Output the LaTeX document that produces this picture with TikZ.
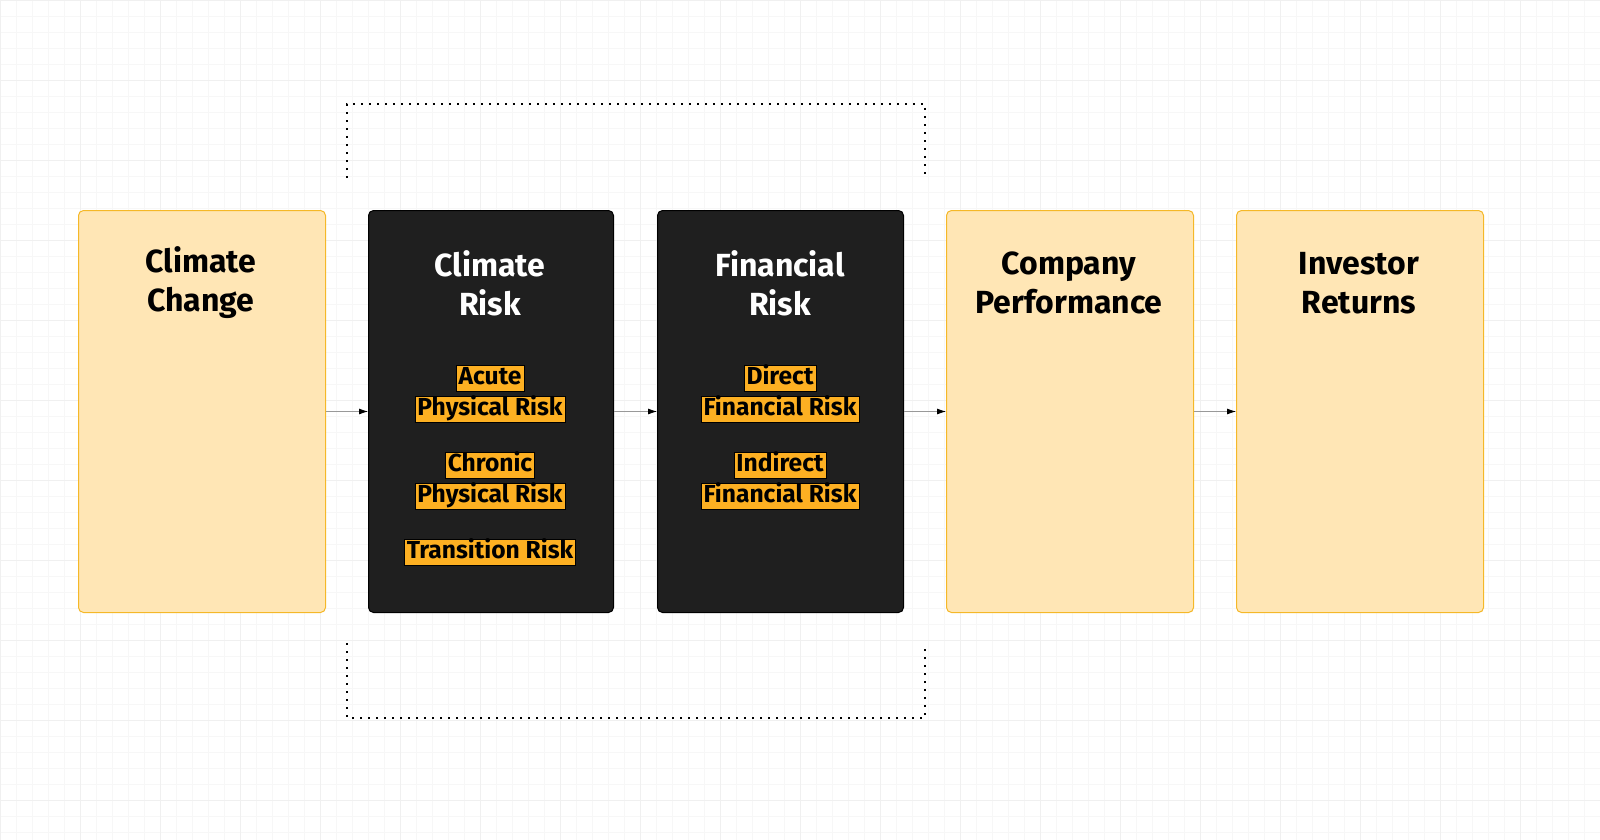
\documentclass[tikz,border=0pt]{standalone}
\usepackage{fontspec}
\setmainfont{Fira Sans}
\usetikzlibrary{arrows.meta}
\definecolor{pale}{HTML}{FFE6B5}
\definecolor{edge}{HTML}{F5B828}
\definecolor{dark}{HTML}{1F1F1F}
\definecolor{hl}{HTML}{FDB022}
\tikzset{
 lightbox/.style={draw=edge,fill=pale,rounded corners=2.5pt,line width=0.5pt},
 darkbox/.style={draw=black,fill=dark,rounded corners=2.5pt,line width=0.5pt},
 ttl/.style={font=\fontsize{16}{19.5}\selectfont\bfseries,align=center},
 tag/.style={fill=hl,draw=black,line width=0.2pt,inner xsep=1.2pt,inner ysep=0pt,font=\fontsize{12.3}{14}\selectfont\bfseries,text height=9.5pt,text depth=3.5pt},
 conn/.style={draw=gray!80,line width=0.4pt,-{Latex[length=4.5pt,width=3pt,black]}},
 dots/.style={line width=1pt,dash pattern=on 1pt off 3pt}
}
\begin{document}
\begin{tikzpicture}[x=0.5pt,y=-0.5pt]
\fill[white] (0,0) rectangle (1600,840);
\useasboundingbox (0,0) rectangle (1600,840);
\clip (0,0) rectangle (1600,840);
\foreach \x in {0,16,...,1600} \draw[gray!6,line width=0.25pt] (\x,0)--(\x,840);
\foreach \y in {0,16,...,840} \draw[gray!6,line width=0.25pt] (0,\y)--(1600,\y);
\foreach \x in {0,80,...,1600} \draw[gray!12,line width=0.3pt] (\x,0)--(\x,840);
\foreach \y in {0,80,...,840} \draw[gray!12,line width=0.3pt] (0,\y)--(1600,\y);
\node[lightbox,minimum width=123.5pt,minimum height=201pt,anchor=north west] (cc) at (78,210) {};
\node[darkbox,minimum width=122.5pt,minimum height=201pt,anchor=north west] (cr) at (368,210) {};
\node[darkbox,minimum width=123pt,minimum height=201pt,anchor=north west] (fr) at (657,210) {};
\node[lightbox,minimum width=123.5pt,minimum height=201pt,anchor=north west] (cp) at (946,210) {};
\node[lightbox,minimum width=123.5pt,minimum height=201pt,anchor=north west] (ir) at (1236,210) {};
\node[ttl] (t1) at (201,283) {Climate\\Change};
\node[ttl,text=white] (t2) at (490,283) {Climate\\Risk};
\node[ttl,text=white] (t3) at (780,283) {Financial\\Risk};
\node[ttl] (t4) at (1069,283) {Company\\Performance};
\node[ttl] (t5) at (1359,283) {Investor\\Returns};
\node[tag] (a1) at (490,378) {Acute};
\node[tag] (a2) at (490,409) {Physical Risk};
\node[tag] (b1) at (490,465) {Chronic};
\node[tag] (b2) at (490,496) {Physical Risk};
\node[tag] (c1) at (490,552) {Transition Risk};
\node[tag] (d1) at (780,378) {Direct};
\node[tag] (d2) at (780,409) {Financial Risk};
\node[tag] (e1) at (780,465) {Indirect};
\node[tag] (e2) at (780,496) {Financial Risk};
\draw[conn] (cc.east) -- (cr.west);
\draw[conn] (cr.east) -- (fr.west);
\draw[conn] (fr.east) -- (cp.west);
\draw[conn] (cp.east) -- (ir.west);
\coordinate (p1) at (347,178); \coordinate (p2) at (347,104);
\coordinate (p3) at (925,104); \coordinate (p4) at (925,178);
\coordinate (q1) at (347,643); \coordinate (q2) at (347,718);
\coordinate (q3) at (925,718); \coordinate (q4) at (925,643);
\draw[dots] (p1) -- (p2) -- (p3) -- (p4);
\draw[dots] (q1) -- (q2) -- (q3) -- (q4);
\end{tikzpicture}
\end{document}
